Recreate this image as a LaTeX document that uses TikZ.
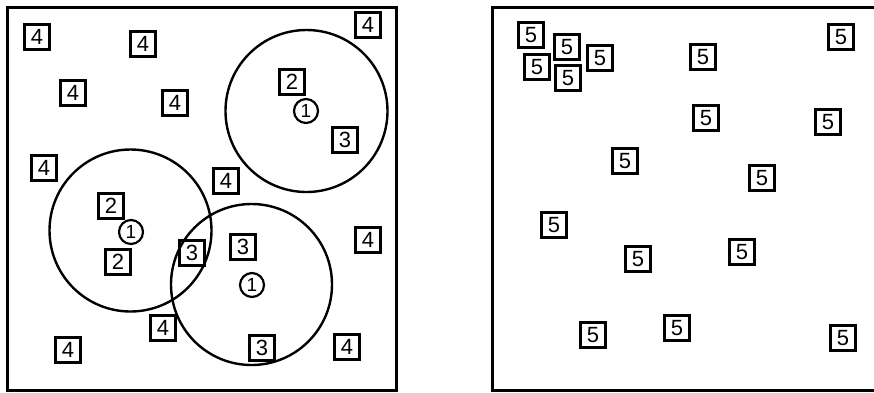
\documentclass[tikz,border=0pt]{standalone}
\usepackage{fontspec}
\setmainfont{Liberation Sans}
\begin{document}
\begin{tikzpicture}[x=1pt,y=-1pt,
  lbl/.style={draw,line width=2.6pt,minimum width=25pt,minimum height=25pt,inner sep=0pt,font=\fontsize{22}{22}\selectfont},
  ctr/.style={draw,circle,line width=2.2pt,minimum size=24pt,inner sep=0pt,font=\fontsize{19}{19}\selectfont},
  zone/.style={draw,circle,line width=2.4pt,inner sep=0pt},
  frame/.style={line width=3pt}]
\useasboundingbox (0,0) rectangle (874,392);
% frames
\draw[frame] (7,7) rectangle (396,390);
\draw[frame] (874,7) -- (492,7) -- (492,390) -- (874,390);
% zones
\node[zone,minimum size=162pt] (zA) at (306.5,111) {};
\node[zone,minimum size=162pt] (zB) at (130.5,230.5) {};
\node[zone,minimum size=161pt] (zC) at (251.5,284.5) {};
% left panel
\node[lbl] (a1) at (37,37) {4};
\node[lbl] (a2) at (143,44) {4};
\node[lbl] (a3) at (368,25) {4};
\node[lbl] (a4) at (73,93) {4};
\node[lbl] (a5) at (175,103) {4};
\node[lbl] (a6) at (292,82) {2};
\node[ctr] (c1) at (306,111) {1};
\node[lbl] (a7) at (345,140) {3};
\node[lbl] (a8) at (44,168) {4};
\node[lbl] (a9) at (226,181) {4};
\node[lbl] (a10) at (111,206) {2};
\node[ctr] (c2) at (131,232) {1};
\node[lbl] (a11) at (118,262) {2};
\node[lbl] (a12) at (192,253) {3};
\node[lbl] (a13) at (243,247) {3};
\node[ctr] (c3) at (252,285) {1};
\node[lbl] (a14) at (368,240) {4};
\node[lbl] (a15) at (163,328) {4};
\node[lbl] (a16) at (68,350) {4};
\node[lbl] (a17) at (262,348) {3};
\node[lbl] (a18) at (347,347) {4};
% right panel
\node[lbl] (b1) at (531,35) {5};
\node[lbl] (b2) at (567,47) {5};
\node[lbl] (b3) at (537,67) {5};
\node[lbl] (b4) at (568,78) {5};
\node[lbl] (b5) at (600,58) {5};
\node[lbl] (b6) at (703,57) {5};
\node[lbl] (b7) at (841,37) {5};
\node[lbl] (b8) at (706,118) {5};
\node[lbl] (b9) at (828,122) {5};
\node[lbl] (b10) at (625,161) {5};
\node[lbl] (b11) at (762,178) {5};
\node[lbl] (b12) at (554,225) {5};
\node[lbl] (b13) at (638,259) {5};
\node[lbl] (b14) at (742,252) {5};
\node[lbl] (b15) at (593,335) {5};
\node[lbl] (b16) at (677,328) {5};
\node[lbl] (b17) at (843,338) {5};
\end{tikzpicture}
\end{document}
